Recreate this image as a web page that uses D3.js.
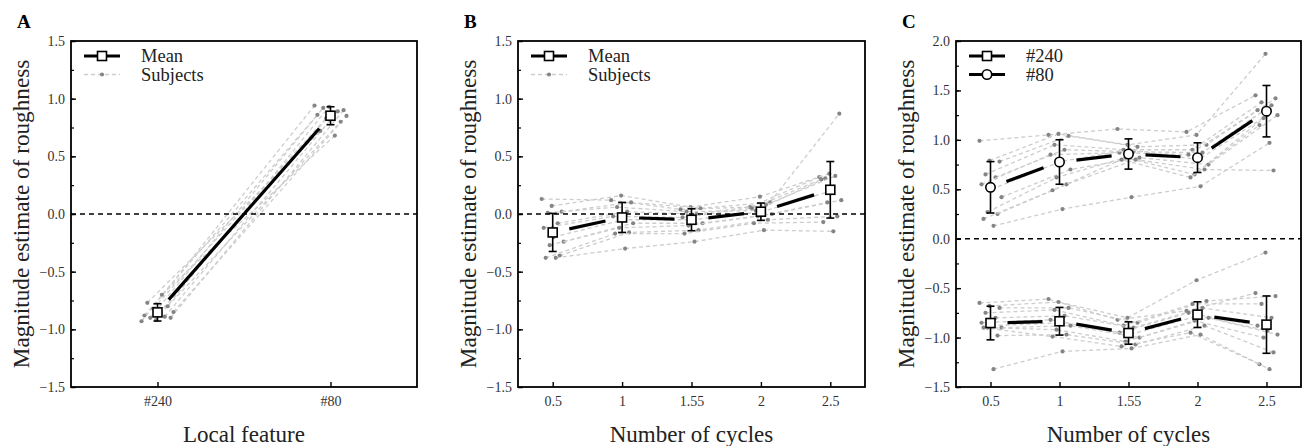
<!DOCTYPE html>
<html>
<head>
<meta charset="utf-8">
<script src="https://cdn.jsdelivr.net/npm/d3@7"></script>
<style>
  body { margin: 0; background: #fff; }
  svg text { font-family: "Liberation Serif", "Times New Roman", Times, "DejaVu Serif", serif !important; }
</style>
</head>
<body>
<div id="chart"></div>
<script>
const width = 1303, height = 446;
const serif = '"Liberation Serif", "Times New Roman", Times, "DejaVu Serif", serif';

// categories
const featureLabels = ["#240", "#80"];
const cycleLabels = ["0.5", "1", "1.55", "2", "2.5"];

// y ticks
const ticksAB = [-1.5, -1.0, -0.5, 0.0, 0.5, 1.0, 1.5];
const ticksC = [-1.5, -1.0, -0.5, 0.0, 0.5, 1.0, 1.5, 2.0];

// Panel A : local feature
const aMean = [-0.853, 0.852];
const aSd = [0.075, 0.078];
const aSubjects = [
  [-0.93, 0.94], [-0.92, 0.93], [-0.90, 0.90], [-0.90, 0.92],
  [-0.89, 0.89], [-0.88, 0.86], [-0.86, 0.88], [-0.85, 0.85],
  [-0.82, 0.83], [-0.80, 0.80], [-0.77, 0.72], [-0.70, 0.68]
];

// Panel B : number of cycles (difference)
const bMean = [-0.16, -0.03, -0.05, 0.02, 0.21];
const bSd = [0.165, 0.13, 0.095, 0.075, 0.245];
const bSubjects = [
  [0.13, 0.12, 0.04, 0.06, 0.32],
  [0.07, 0.16, 0.06, 0.15, 0.35],
  [0.02, 0.10, 0.05, 0.10, 0.87],
  [0.01, 0.06, 0.02, 0.03, 0.31],
  [-0.08, 0.02, 0.00, 0.08, 0.33],
  [-0.12, -0.02, -0.03, 0.05, 0.30],
  [-0.20, -0.05, -0.05, 0.02, 0.20],
  [-0.24, -0.08, -0.08, 0.00, 0.12],
  [-0.27, -0.12, -0.10, -0.02, 0.10],
  [-0.36, -0.16, -0.14, -0.05, -0.02],
  [-0.38, -0.17, -0.17, -0.08, -0.07],
  [-0.38, -0.30, -0.24, -0.14, -0.15]
];

// Panel C : #240 and #80 by cycles
const c240Mean = [-0.853, -0.835, -0.954, -0.768, -0.869];
const c240Sd = [0.17, 0.14, 0.113, 0.13, 0.29];
const c240Subjects = [
  [-0.65, -0.61, -0.82, -0.73, -0.55],
  [-0.68, -0.64, -0.80, -0.42, -0.14],
  [-0.70, -0.70, -0.85, -0.63, -0.58],
  [-0.75, -0.72, -0.88, -0.66, -0.66],
  [-0.80, -0.78, -0.90, -0.70, -0.80],
  [-0.85, -0.82, -0.95, -0.75, -0.88],
  [-0.88, -0.85, -0.97, -0.78, -0.93],
  [-0.90, -0.88, -1.00, -0.80, -0.97],
  [-0.90, -0.92, -1.04, -0.83, -1.00],
  [-0.98, -0.97, -1.07, -0.88, -1.15],
  [-0.90, -0.99, -1.09, -0.95, -1.27],
  [-1.32, -1.14, -1.11, -0.97, -1.32]
];
const c80Mean = [0.52, 0.776, 0.857, 0.82, 1.29];
const c80Sd = [0.26, 0.225, 0.153, 0.15, 0.26];
const c80Subjects = [
  [0.99, 1.05, 1.11, 1.08, 1.45],
  [0.79, 1.06, 0.95, 1.05, 1.87],
  [0.78, 1.04, 0.93, 0.95, 1.42],
  [0.65, 0.95, 0.90, 0.90, 1.38],
  [0.62, 0.90, 0.88, 0.87, 1.35],
  [0.55, 0.85, 0.87, 0.85, 1.30],
  [0.50, 0.78, 0.90, 0.80, 1.25],
  [0.42, 0.70, 0.82, 0.75, 1.25],
  [0.27, 0.62, 0.82, 0.65, 1.22],
  [0.25, 0.55, 0.80, 0.70, 0.69],
  [0.20, 0.49, 0.80, 0.62, 1.15],
  [0.13, 0.30, 0.42, 0.53, 0.97]
];

const yTitle = "Magnitude estimate of roughness";

const panels = [
  { label: "A", left: 71, right: 417, cats: featureLabels, yDomain: [-1.5, 1.5], yTicks: ticksAB,
    xTitle: "Local feature", spread: 32,
    groups: [{ mean: aMean, sd: aSd, subjects: aSubjects, marker: "square" }],
    legend: [{ text: "Mean", type: "mean", marker: "square" }, { text: "Subjects", type: "subject" }] },
  { label: "B", left: 518, right: 865, cats: cycleLabels, yDomain: [-1.5, 1.5], yTicks: ticksAB,
    xTitle: "Number of cycles", spread: 22,
    groups: [{ mean: bMean, sd: bSd, subjects: bSubjects, marker: "square" }],
    legend: [{ text: "Mean", type: "mean", marker: "square" }, { text: "Subjects", type: "subject" }] },
  { label: "C", left: 956, right: 1301, cats: cycleLabels, yDomain: [-1.5, 2.0], yTicks: ticksC,
    xTitle: "Number of cycles", spread: 22,
    groups: [
      { mean: c240Mean, sd: c240Sd, subjects: c240Subjects, marker: "square" },
      { mean: c80Mean, sd: c80Sd, subjects: c80Subjects, marker: "circle" }
    ],
    legend: [{ text: "#240", type: "mean", marker: "square" }, { text: "#80", type: "mean", marker: "circle" }] }
];

const plotTop = 41, plotBottom = 387;

const svg = d3.select("#chart")
  .append("svg")
  .attr("width", width)
  .attr("height", height)
  .attr("viewBox", [0, 0, width, height])
  .attr("font-family", serif);

function drawMarker(g, type, x, y) {
  if (type === "circle") {
    g.append("circle").attr("cx", x).attr("cy", y).attr("r", 4.7)
      .attr("fill", "#fff").attr("stroke", "#000").attr("stroke-width", 1.6);
  } else {
    g.append("rect").attr("x", x - 4.5).attr("y", y - 4.5).attr("width", 9).attr("height", 9)
      .attr("fill", "#fff").attr("stroke", "#000").attr("stroke-width", 1.6);
  }
}

panels.forEach(p => {
  const g = svg.append("g");

  const x = d3.scalePoint().domain(p.cats).range([p.left, p.right]).padding(0.5);
  const y = d3.scaleLinear().domain(p.yDomain).range([plotBottom, plotTop]);

  // y axis, major + minor ticks pointing inward
  const minor = d3.range(p.yDomain[0], p.yDomain[1] + 0.001, 0.25);
  g.append("g")
    .attr("transform", `translate(${p.left},0)`)
    .call(d3.axisLeft(y).tickValues(minor).tickSize(-3).tickFormat(""))
    .call(a => a.select(".domain").remove())
    .call(a => a.selectAll("line").attr("stroke", "#000").attr("stroke-width", 1.2));
  g.append("g")
    .attr("transform", `translate(${p.left},0)`)
    .call(d3.axisLeft(y).tickValues(p.yTicks).tickSize(-5).tickPadding(6).tickFormat(d3.format(".1f")))
    .attr("font-family", serif)
    .call(a => a.select(".domain").remove())
    .call(a => a.selectAll("line").attr("stroke", "#000").attr("stroke-width", 1.4))
    .call(a => a.selectAll("text").attr("font-size", 14).attr("fill", "#333"));

  // x axis
  g.append("g")
    .attr("transform", `translate(0,${plotBottom})`)
    .call(d3.axisBottom(x).tickSize(-5).tickPadding(9))
    .attr("font-family", serif)
    .call(a => a.select(".domain").remove())
    .call(a => a.selectAll("line").attr("stroke", "#000").attr("stroke-width", 1.4))
    .call(a => a.selectAll("text").attr("font-size", 14).attr("fill", "#333"));

  // subjects
  p.groups.forEach(grp => {
    grp.subjects.forEach((row, i) => {
      const off = (((i * 5) % 12) / 11 - 0.5) * p.spread;
      const pts = row.map((v, j) => [x(p.cats[j]) + off, y(v)]);
      g.append("path")
        .attr("d", d3.line()(pts))
        .attr("fill", "none")
        .attr("stroke", "#cdcdcd")
        .attr("stroke-width", 1.3)
        .attr("stroke-dasharray", "4,3");
      g.selectAll(null).data(pts).join("circle")
        .attr("cx", d => d[0]).attr("cy", d => d[1]).attr("r", 2.1)
        .attr("fill", "#858585");
    });
  });

  // zero line
  g.append("line")
    .attr("x1", p.left).attr("x2", p.right)
    .attr("y1", y(0)).attr("y2", y(0))
    .attr("stroke", "#000").attr("stroke-width", 1.6)
    .attr("stroke-dasharray", "5,4");

  // means with gaps around symbols, error bars, markers
  const gap = 17;
  p.groups.forEach(grp => {
    const pts = grp.mean.map((v, j) => [x(p.cats[j]), y(v)]);
    for (let j = 0; j < pts.length - 1; j++) {
      const [x0, y0] = pts[j], [x1, y1] = pts[j + 1];
      const len = Math.hypot(x1 - x0, y1 - y0);
      const ux = (x1 - x0) / len, uy = (y1 - y0) / len;
      g.append("line")
        .attr("x1", x0 + ux * gap).attr("y1", y0 + uy * gap)
        .attr("x2", x1 - ux * gap).attr("y2", y1 - uy * gap)
        .attr("stroke", "#000").attr("stroke-width", 3.2);
    }
    grp.mean.forEach((v, j) => {
      const cx = x(p.cats[j]);
      const yt = y(v + grp.sd[j]), yb = y(v - grp.sd[j]);
      g.append("line").attr("x1", cx).attr("x2", cx).attr("y1", yt).attr("y2", yb)
        .attr("stroke", "#000").attr("stroke-width", 1.6);
      [yt, yb].forEach(yy => g.append("line")
        .attr("x1", cx - 4).attr("x2", cx + 4).attr("y1", yy).attr("y2", yy)
        .attr("stroke", "#000").attr("stroke-width", 1.6));
      drawMarker(g, grp.marker, cx, y(v));
    });
  });

  // frame
  g.append("rect")
    .attr("x", p.left).attr("y", plotTop)
    .attr("width", p.right - p.left).attr("height", plotBottom - plotTop)
    .attr("fill", "none").attr("stroke", "#000").attr("stroke-width", 1.8);

  // legend
  p.legend.forEach((item, k) => {
    const ly = 56 + k * 18.5;
    const lx0 = p.left + 13, lx1 = p.left + 49;
    if (item.type === "mean") {
      g.append("line").attr("x1", lx0).attr("x2", lx1).attr("y1", ly).attr("y2", ly)
        .attr("stroke", "#000").attr("stroke-width", 3.2);
      drawMarker(g, item.marker, (lx0 + lx1) / 2, ly);
    } else {
      g.append("line").attr("x1", lx0).attr("x2", lx1).attr("y1", ly).attr("y2", ly)
        .attr("stroke", "#cdcdcd").attr("stroke-width", 1.3).attr("stroke-dasharray", "4,3");
      g.append("circle").attr("cx", (lx0 + lx1) / 2).attr("cy", ly).attr("r", 2.1).attr("fill", "#858585");
    }
    g.append("text")
      .attr("x", p.left + 70).attr("y", ly + 6)
      .attr("font-size", 18.5).attr("fill", "#222")
      .text(item.text);
  });

  // titles
  g.append("text")
    .attr("transform", `translate(${p.left - 42},${(plotTop + plotBottom) / 2}) rotate(-90)`)
    .attr("text-anchor", "middle")
    .attr("font-size", 23.2).attr("fill", "#222")
    .text(yTitle);
  g.append("text")
    .attr("x", (p.left + p.right) / 2).attr("y", 442)
    .attr("text-anchor", "middle")
    .attr("font-size", 23).attr("fill", "#222")
    .text(p.xTitle);
  g.append("text")
    .attr("x", p.left - 54).attr("y", 28)
    .attr("font-size", 19).attr("font-weight", "bold").attr("fill", "#000")
    .text(p.label);
});
</script>
</body>
</html>
